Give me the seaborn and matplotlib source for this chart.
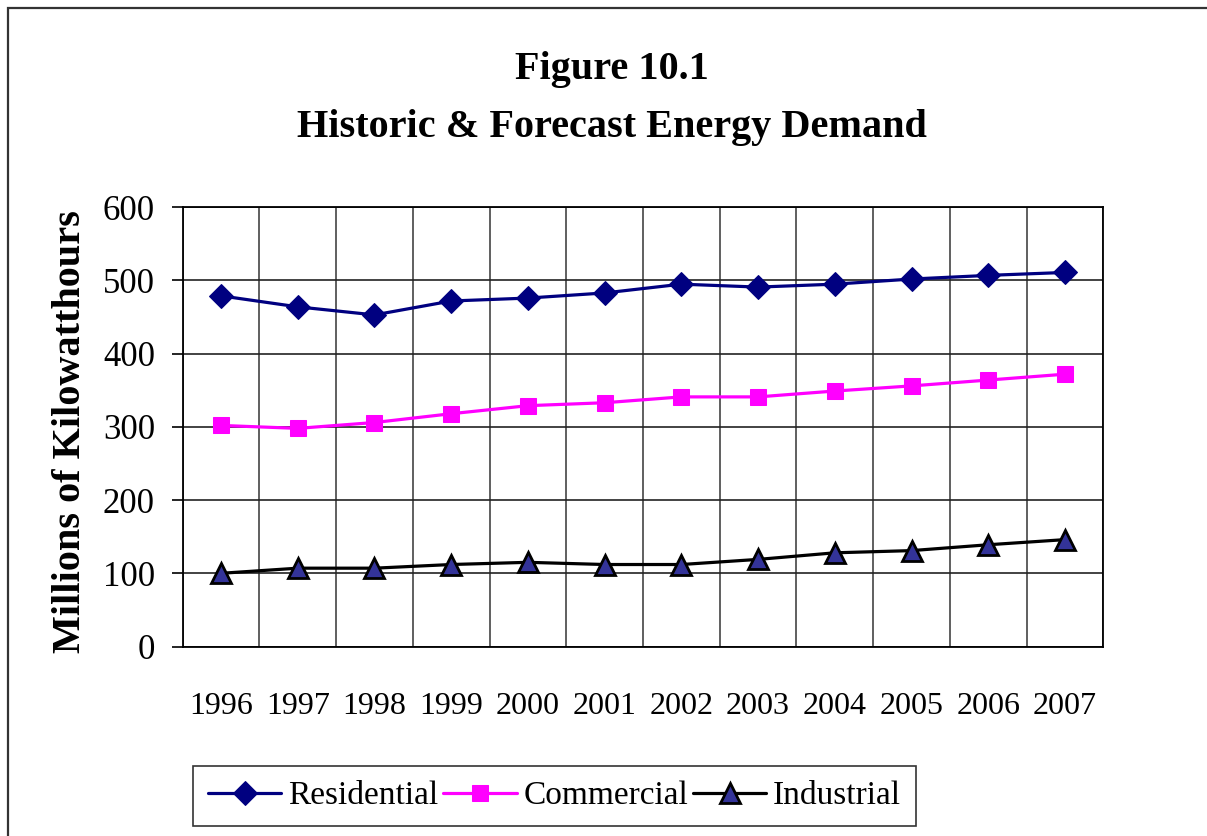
import numpy as np
import pandas as pd
import matplotlib
matplotlib.use("Agg")
import matplotlib.pyplot as plt
import seaborn as sns
from matplotlib.patches import Rectangle

years = ["1996", "1997", "1998", "1999", "2000", "2001",
         "2002", "2003", "2004", "2005", "2006", "2007"]
residential = [479, 464, 453, 472, 476, 483, 495, 491, 495, 502, 507, 511]
commercial = [302, 298, 306, 318, 329, 333, 341, 341, 349, 356, 364, 372]
industrial = [100, 107, 107, 112, 115, 112, 112, 119, 128, 131, 139, 146]
series_names = ["Residential", "Commercial", "Industrial"]
y_ticks = [0, 100, 200, 300, 400, 500, 600]

sns.set_style("white")
plt.rcParams['font.family'] = ['Liberation Serif', 'DejaVu Serif']
plt.rcParams['text.color'] = 'black'
plt.rcParams['axes.labelcolor'] = 'black'
plt.rcParams['xtick.color'] = 'black'
plt.rcParams['ytick.color'] = 'black'

W, H = 1207, 836
fig = plt.figure(figsize=(W / 100, H / 100), dpi=100)
ax = fig.add_axes([182.7 / W, 1 - 646.5 / H, (1103.3 - 182.7) / W, (646.5 - 207.3) / H])

pos = np.arange(len(years))
df = pd.DataFrame({"x": pos, "Residential": residential,
                   "Commercial": commercial, "Industrial": industrial})

styles = {
    "Residential": dict(color="#000080", marker="D", markersize=12,
                        markerfacecolor="#000080", markeredgecolor="#000080"),
    "Commercial": dict(color="#FF00FF", marker="s", markersize=12,
                       markerfacecolor="#FF00FF", markeredgecolor="#FF00FF"),
    "Industrial": dict(color="#000000", marker="^", markersize=14,
                       markerfacecolor="#333399", markeredgecolor="#000000",
                       markeredgewidth=2),
}
for name in series_names:
    sns.lineplot(data=df, x="x", y=name, ax=ax, linewidth=2.3,
                 label=name, legend=False, **styles[name])

ax.set_xlim(-0.5, len(years) - 0.5)
ax.set_ylim(0, 600)
ax.set_yticks(y_ticks)
ax.set_yticklabels([str(v) for v in y_ticks], fontsize=25)
ax.set_xticks(pos)
ax.set_xticklabels(years, fontsize=23)
ax.set_xticks(np.arange(-0.5, len(years), 1.0), minor=True)
ax.tick_params(axis="x", which="major", length=0, pad=33)
ax.tick_params(axis="x", which="minor", length=8, width=1.2, color="black", direction="out")
ax.tick_params(axis="y", which="major", length=8, width=1.2, color="black",
               direction="out", left=True, pad=12)
ax.grid(False)
ax.yaxis.grid(True, color="#222222", linewidth=1.2)
ax.xaxis.grid(True, which="minor", color="#444444", linewidth=1.2)
for s in ax.spines.values():
    s.set_color("black")
    s.set_linewidth(1.3)
ax.set_xlabel("")
ax.set_ylabel("Millions of Kilowatthours", fontsize=29, fontweight="bold")
ax.yaxis.set_label_coords(-0.102, 0.49)

fig.text(612 / W, 1 - 70 / H, "Figure 10.1", ha="center", va="center",
         fontsize=29, fontweight="bold")
fig.text(612 / W, 1 - 127 / H, "Historic & Forecast Energy Demand", ha="center",
         va="center", fontsize=29, fontweight="bold")

handles, labels = ax.get_legend_handles_labels()
leg = fig.legend(handles, labels, loc="center", bbox_to_anchor=(554.5 / W, 1 - 796 / H),
                 ncol=3, fontsize=24, frameon=True, fancybox=False, edgecolor="black",
                 handlelength=2.2, handletextpad=0.2, columnspacing=0.15,
                 borderpad=0.45, borderaxespad=0.0)
leg.get_frame().set_linewidth(1.2)

fig.patches.append(Rectangle((8 / W, -0.1), 1.2, 1 - 7.5 / H + 0.1,
                             transform=fig.transFigure, fill=False,
                             edgecolor="#333333", linewidth=1.6))

fig.savefig("out.png", dpi=100)
